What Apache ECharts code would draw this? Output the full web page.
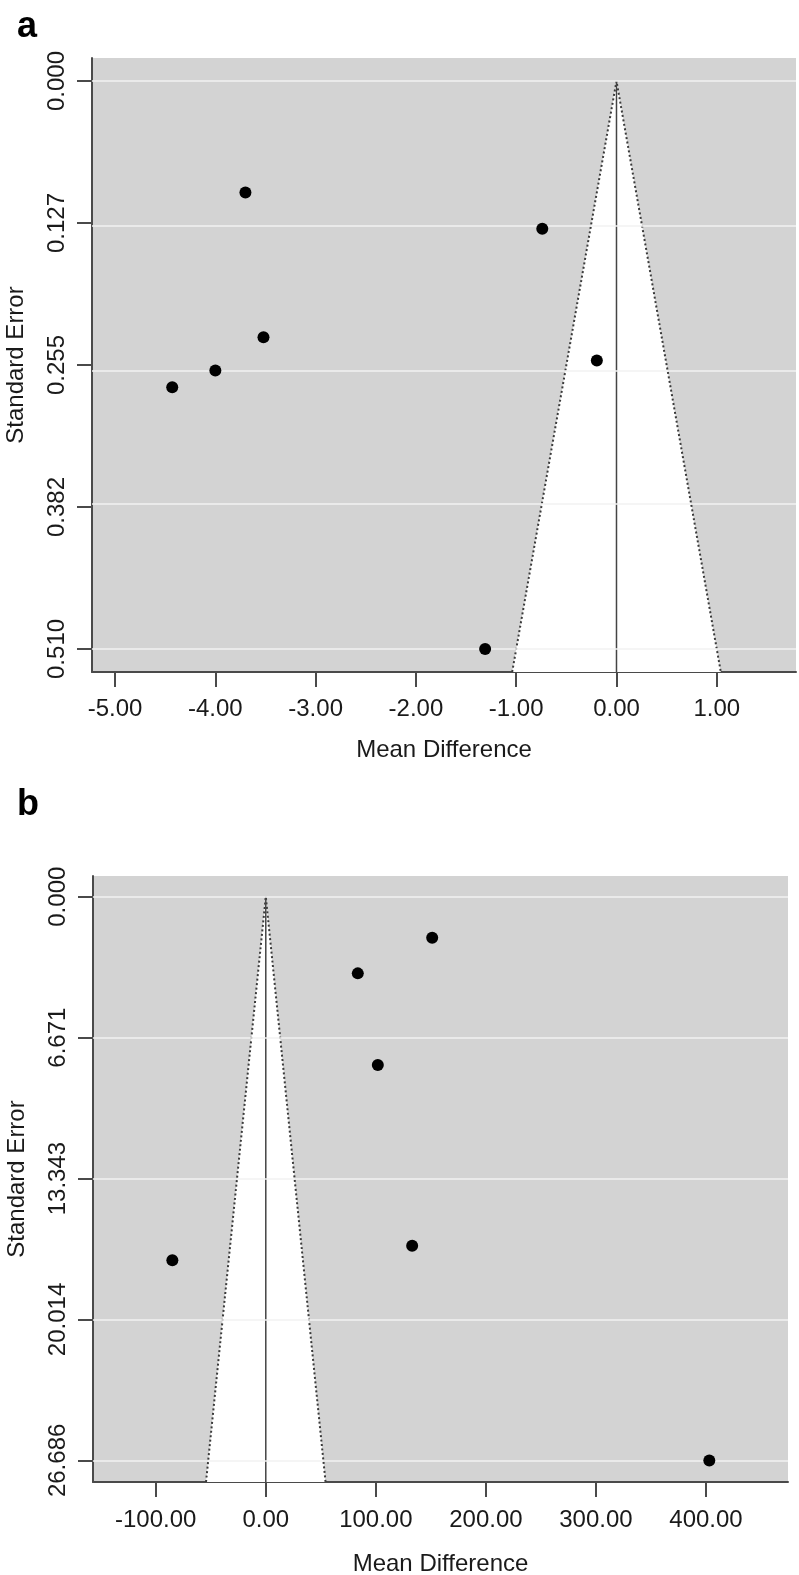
<!DOCTYPE html>
<html>
<head>
<meta charset="utf-8">
<script src="https://cdn.jsdelivr.net/npm/echarts@6/dist/echarts.min.js"></script>
<style>
html,body{margin:0;padding:0;background:#fff;}
#chart{width:799px;height:1575px;}
</style>
</head>
<body>
<div id="chart"></div>
<script>
// ---- Panel a data ----
const aMeanDiff = [-3.70, -3.52, -4.00, -4.43, -0.74, -0.196, -1.31];
const aStdErr   = [0.100, 0.230, 0.260, 0.275, 0.1326, 0.251, 0.510];
const aYTickValues = [0, 0.1275, 0.255, 0.3825, 0.51];
const aYTickLabels = ['0.000', '0.127', '0.255', '0.382', '0.510'];
const aXTickValues = [-5, -4, -3, -2, -1, 0, 1];
const aXRange = [-5.23, 1.79];
const aYRange = [-0.0207, 0.5307];

// ---- Panel b data ----
const bMeanDiff = [83.6, 101.8, 151.2, -84.9, 133.0, 403.0];
const bStdErr   = [3.63, 7.97, 1.94, 17.21, 16.52, 26.69];
const bYTickValues = [0, 6.6715, 13.343, 20.0145, 26.686];
const bYTickLabels = ['0.000', '6.671', '13.343', '20.014', '26.686'];
const bXTickValues = [-100, 0, 100, 200, 300, 400];
const bXRange = [-157, 474.5];
const bYRange = [-0.98, 27.71];

const Z = 1.96;
const FONT = '"Liberation Sans", Arial, sans-serif';
const TXT = '#1a1a1a';
const AX = '#4a4a4a';

function labelLookup(values, labels) {
  return function (v) {
    let best = 0, bd = Infinity;
    values.forEach((t, i) => { const d = Math.abs(t - v); if (d < bd) { bd = d; best = i; } });
    return labels[best];
  };
}

function xAxisCfg(gi, range, ticks, nameGap, margin) {
  return {
    gridIndex: gi, type: 'value', min: range[0], max: range[1],
    name: 'Mean Difference', nameLocation: 'middle', nameGap: nameGap,
    nameTextStyle: { fontFamily: FONT, fontSize: 24, color: TXT },
    axisLine: { show: true, onZero: false, lineStyle: { color: AX, width: 2 } },
    axisTick: { show: true, inside: false, length: 15, customValues: ticks, lineStyle: { color: AX, width: 2 } },
    axisLabel: { show: true, margin: margin, customValues: ticks, fontFamily: FONT, fontSize: 24, color: TXT,
      formatter: v => v.toFixed(2) },
    splitLine: { show: false }
  };
}
function yAxisCfg(gi, range, ticks, labels) {
  return {
    gridIndex: gi, type: 'value', inverse: true, min: range[0], max: range[1],
    name: 'Standard Error', nameLocation: 'middle', nameGap: 64, nameRotate: 90,
    nameTextStyle: { fontFamily: FONT, fontSize: 24, color: TXT },
    axisLine: { show: true, onZero: false, lineStyle: { color: AX, width: 2 } },
    axisTick: { show: true, inside: false, length: 15, customValues: ticks, lineStyle: { color: AX, width: 2 } },
    axisLabel: { show: true, margin: 23, rotate: 90, customValues: ticks, fontFamily: FONT, fontSize: 24, color: TXT,
      formatter: labelLookup(ticks, labels) },
    splitLine: { show: false }
  };
}

function panelSeries(gi, xs, ys, yRange, yTicks) {
  const se = yRange[1];
  const funnel = [[-Z * se, se], [0, 0], [Z * se, se]];
  return [
    {
      type: 'custom', xAxisIndex: gi, yAxisIndex: gi, z: 1, silent: true,
      data: [[0, 0]],
      renderItem: function (params, api) {
        const pts = funnel.map(p => api.coord(p));
        return { type: 'polygon', shape: { points: pts }, style: { fill: '#ffffff', stroke: null } };
      }
    },
    {
      type: 'line', xAxisIndex: gi, yAxisIndex: gi, z: 2, silent: true, symbol: 'none',
      data: yTicks.map(() => null),
      markLine: {
        silent: true, symbol: 'none', label: { show: false },
        lineStyle: { color: '#f2f2f2', width: 1.5, type: 'solid', opacity: 1 },
        data: yTicks.map(t => ({ yAxis: t }))
      }
    },
    {
      type: 'line', xAxisIndex: gi, yAxisIndex: gi, z: 3, silent: true, symbol: 'none',
      data: funnel, lineStyle: { color: '#3a3a3a', width: 2, type: [2, 2.5] }
    },
    {
      type: 'line', xAxisIndex: gi, yAxisIndex: gi, z: 3, silent: true, symbol: 'none',
      data: [[0, 0], [0, se]], lineStyle: { color: '#444', width: 1.5, type: 'solid' }
    },
    {
      type: 'scatter', xAxisIndex: gi, yAxisIndex: gi, z: 5, silent: true,
      symbol: 'circle', symbolSize: 12, itemStyle: { color: '#000', opacity: 1 },
      data: xs.map((x, i) => [x, ys[i]])
    }
  ];
}

const chart = echarts.init(document.getElementById('chart'), null, { renderer: 'canvas' });
chart.setOption({
  animation: false,
  backgroundColor: '#ffffff',
  title: [
    { text: 'a', left: 12, top: 4, textStyle: { fontFamily: FONT, fontSize: 36, fontWeight: 'bold', color: '#000' } },
    { text: 'b', left: 12, top: 782, textStyle: { fontFamily: FONT, fontSize: 36, fontWeight: 'bold', color: '#000' } }
  ],
  grid: [
    { left: 92, top: 58, right: 3, height: 614, show: true, backgroundColor: '#d3d3d3', borderWidth: 0,
      containLabel: false, outerBoundsMode: 'none' },
    { left: 93, top: 876, right: 11, height: 606, show: true, backgroundColor: '#d3d3d3', borderWidth: 0,
      containLabel: false, outerBoundsMode: 'none' }
  ],
  xAxis: [xAxisCfg(0, aXRange, aXTickValues, 66, 25), xAxisCfg(1, bXRange, bXTickValues, 70, 26)],
  yAxis: [yAxisCfg(0, aYRange, aYTickValues, aYTickLabels), yAxisCfg(1, bYRange, bYTickValues, bYTickLabels)],
  series: [].concat(
    panelSeries(0, aMeanDiff, aStdErr, aYRange, aYTickValues),
    panelSeries(1, bMeanDiff, bStdErr, bYRange, bYTickValues)
  )
});
</script>
</body>
</html>
